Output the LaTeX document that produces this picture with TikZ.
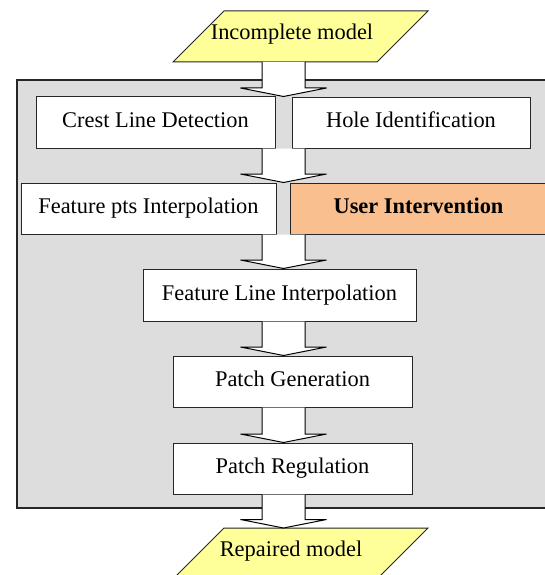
\documentclass[tikz,border=0pt]{standalone}
\usepackage{fontspec}
\setmainfont{Liberation Serif}
\usetikzlibrary{calc}
\definecolor{panelgray}{HTML}{DDDDDD}
\definecolor{paleyellow}{HTML}{FFFF99}
\definecolor{peach}{HTML}{F9BF8F}
\newcommand\flowarrow[2]{%
  \draw[blockarrow] let \p1=(#1), \p2=(#2) in
   (262pt,\y1) -- (262pt,\y2+8.5pt) -- (240.5pt,\y2+8.5pt) -- (283.5pt,\y2)
   -- (326.5pt,\y2+8.5pt) -- (305pt,\y2+8.5pt) -- (305pt,\y1);}
\begin{document}
\begin{tikzpicture}[x=1pt,y=-1pt,
  stepbox/.style={draw=black!85, line width=1pt, fill=white, inner sep=0pt,
    minimum height=51pt, text height=15pt, text depth=5pt,
    font=\fontsize{22.4}{26}\selectfont},
  panel/.style={draw=black!85, line width=1.2pt, fill=panelgray},
  para/.style={draw=black!85, line width=1pt, fill=paleyellow},
  paratext/.style={inner sep=0pt, font=\fontsize{22.4}{26}\selectfont},
  blockarrow/.style={draw=black, line width=1pt, fill=white, line join=miter}]
\useasboundingbox (0,0) rectangle (545,575);
\clip (0,0) rectangle (545,575);
% panel
\draw[panel] (17,80) rectangle (570,508);
% boxes
\node[stepbox, minimum width=239pt] (crest) at (155.5,122.5) {Crest Line Detection};
\node[stepbox, minimum width=238pt] (hole) at (411,123) {Hole Identification};
\node[stepbox, minimum width=255pt] (fpts) at (148.5,208.5) {Feature pts Interpolation};
\node[stepbox, minimum width=257pt, fill=peach, font=\fontsize{22.4}{26}\selectfont\bfseries] (user) at (418.5,208.5) {User Intervention};
\node[stepbox, minimum width=273pt, minimum height=52pt] (fli) at (279.5,295) {Feature Line Interpolation};
\node[stepbox, minimum width=239pt] (pg) at (292.5,381.5) {Patch Generation};
\node[stepbox, minimum width=239pt] (pr) at (292.5,468.5) {Patch Regulation};
% input / output
\draw[para] (224,11) -- (428,11) -- (377,62) -- (173,62) -- cycle;
\coordinate (incB) at (300,62);
\node[paratext] (inc) at (292,34) {Incomplete model};
\draw[para] (224,528) -- (428,528) -- (377,579) -- (173,579) -- cycle;
\coordinate (repT) at (300,528);
\node[paratext] (rep) at (291,551) {Repaired model};
% arrows
\flowarrow{incB}{crest.north}
\flowarrow{crest.south}{fpts.north}
\flowarrow{fpts.south}{fli.north}
\flowarrow{fli.south}{pg.north}
\flowarrow{pg.south}{pr.north}
\flowarrow{pr.south}{repT}
\end{tikzpicture}
\end{document}
